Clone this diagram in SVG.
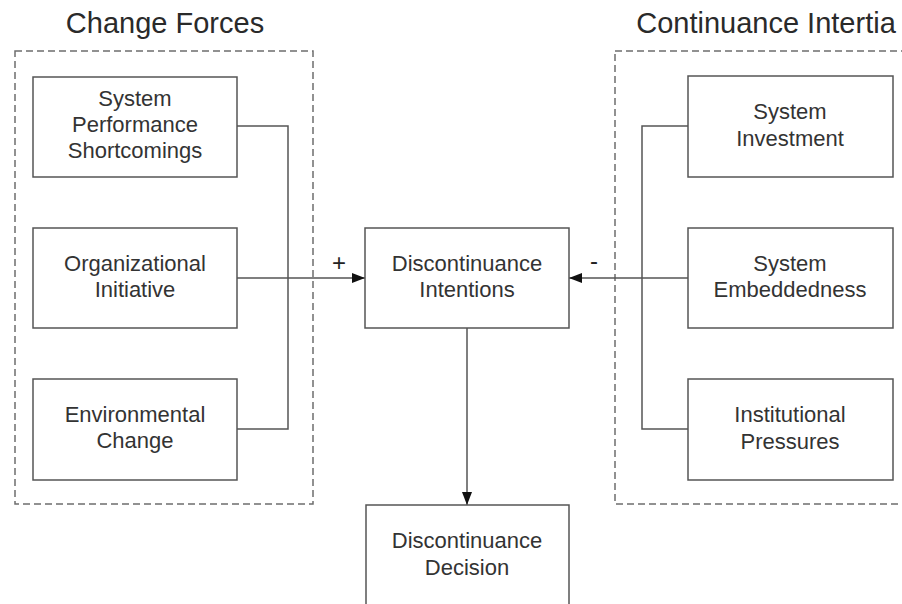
<svg xmlns="http://www.w3.org/2000/svg" width="902" height="604" viewBox="0 0 902 604">
<style>
.bg{fill:#fff}
.group{fill:none;stroke:#6e6e6e;stroke-width:1.5;stroke-dasharray:7 4}
.box{fill:#fff;stroke:#555;stroke-width:1.5}
.line{fill:none;stroke:#555;stroke-width:1.5}
.t{font-family:"Liberation Sans",Arial,sans-serif;font-size:22px;fill:#333;text-anchor:middle}
.title{font-family:"Liberation Sans",Arial,sans-serif;font-size:29px;fill:#2a2a2a;text-anchor:middle}
.sign{font-family:"Liberation Sans",Arial,sans-serif;font-size:24px;fill:#222;text-anchor:middle}
</style>
<defs>
<marker id="arr" viewBox="0 0 13 10" refX="13" refY="5" markerWidth="13" markerHeight="10" markerUnits="userSpaceOnUse" orient="auto">
<path d="M0,0 L13,5 L0,10 Z" fill="#111"/>
</marker>
</defs>
<rect class="bg" x="0" y="0" width="902" height="604"/>

<g id="change-forces">
<text class="title" x="165" y="33">Change Forces</text>
<rect class="group" x="15" y="51" width="298" height="453"/>
</g>
<g id="continuance-inertia">
<text class="title" x="766" y="33">Continuance Intertia</text>
<rect class="group" x="615" y="51" width="300" height="453"/>
</g>

<g id="connectors">
<path class="line" d="M237,126 H288 V429 H237"/>
<path class="line" d="M237,278 H365" marker-end="url(#arr)"/>
<path class="line" d="M688,126 H642 V429 H688"/>
<path class="line" d="M688,278 H569" marker-end="url(#arr)"/>
<path class="line" d="M467,328 V505" marker-end="url(#arr)"/>
<text class="sign" x="339" y="271">+</text>
<text class="sign" x="594" y="269">-</text>
</g>

<g id="system-performance-shortcomings">
<rect class="box" x="33" y="77" width="204" height="100"/>
<text class="t" x="135" y="106">System</text>
<text class="t" x="135" y="132">Performance</text>
<text class="t" x="135" y="158">Shortcomings</text>
</g>
<g id="organizational-initiative">
<rect class="box" x="33" y="228" width="204" height="100"/>
<text class="t" x="135" y="271">Organizational</text>
<text class="t" x="135" y="297">Initiative</text>
</g>
<g id="environmental-change">
<rect class="box" x="33" y="379" width="204" height="101"/>
<text class="t" x="135" y="422">Environmental</text>
<text class="t" x="135" y="448">Change</text>
</g>

<g id="discontinuance-intentions">
<rect class="box" x="365" y="228" width="204" height="100"/>
<text class="t" x="467" y="271">Discontinuance</text>
<text class="t" x="467" y="297">Intentions</text>
</g>
<g id="discontinuance-decision">
<rect class="box" x="366" y="505" width="203" height="120"/>
<text class="t" x="467" y="548">Discontinuance</text>
<text class="t" x="467" y="575">Decision</text>
</g>

<g id="system-investment">
<rect class="box" x="688" y="76" width="205" height="101"/>
<text class="t" x="790" y="119">System</text>
<text class="t" x="790" y="146">Investment</text>
</g>
<g id="system-embeddedness">
<rect class="box" x="688" y="228" width="205" height="100"/>
<text class="t" x="790" y="271">System</text>
<text class="t" x="790" y="297">Embeddedness</text>
</g>
<g id="institutional-pressures">
<rect class="box" x="688" y="379" width="205" height="101"/>
<text class="t" x="790" y="422">Institutional</text>
<text class="t" x="790" y="449">Pressures</text>
</g>
</svg>
